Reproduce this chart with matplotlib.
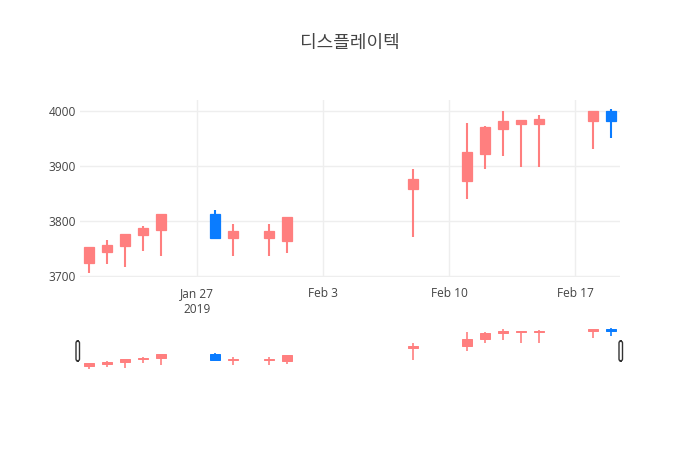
import numpy as np
import pandas as pd
import matplotlib
matplotlib.use("Agg")
import matplotlib.pyplot as plt
import matplotlib.dates as mdates
from matplotlib.patches import FancyBboxPatch

plt.rcParams['font.family'] = ['Open Sans', 'Noto Sans CJK KR', 'DejaVu Sans']

# daily OHLC
dates = pd.to_datetime([
    "2019-01-21", "2019-01-22", "2019-01-23", "2019-01-24", "2019-01-25",
    "2019-01-28", "2019-01-29", "2019-01-31", "2019-02-01", "2019-02-08",
    "2019-02-11", "2019-02-12", "2019-02-13", "2019-02-14", "2019-02-15",
    "2019-02-18", "2019-02-19",
])
opens = [3724, 3744, 3755, 3775, 3784, 3812, 3769, 3769, 3764, 3859,
         3873, 3922, 3968, 3977, 3977, 3982, 4000]
highs = [3752, 3765, 3777, 3791, 3812, 3820, 3795, 3795, 3807, 3895,
         3978, 3973, 4000, 3983, 3993, 4000, 4003]
lows = [3706, 3721, 3716, 3746, 3736, 3769, 3736, 3736, 3741, 3770,
        3840, 3895, 3919, 3899, 3899, 3930, 3950]
closes = [3752, 3757, 3777, 3787, 3812, 3769, 3782, 3782, 3807, 3876,
          3925, 3970, 3981, 3983, 3985, 4000, 3982]

title = "디스플레이텍"
tick_dates = pd.to_datetime(["2019-01-27", "2019-02-03", "2019-02-10", "2019-02-17"])
tick_labels = ["Jan 27\n2019", "Feb 3", "Feb 10", "Feb 17"]
y_ticks = [3700, 3800, 3900, 4000]

UP = "#ff7f7f"
DOWN = "#0a7cff"
GRID = "#eeeeee"
TXT = "#444444"

W, H = 700, 450
fig = plt.figure(figsize=(7, 4.5), dpi=100)


def px_axes(x0, y0, x1, y1):
    return fig.add_axes([x0 / W, 1 - y1 / H, (x1 - x0) / W, (y1 - y0) / H])


def draw_candles(ax, body_w=0.6, lw=1.5):
    xs = mdates.date2num(dates)
    for x, o, h, l, c in zip(xs, opens, highs, lows, closes):
        col = UP if c >= o else DOWN
        ax.plot([x, x], [l, h], color=col, lw=lw, solid_capstyle="butt", zorder=2)
        lo, hi = min(o, c), max(o, c)
        ax.add_patch(plt.Rectangle((x - body_w / 2, lo), body_w, max(hi - lo, 0.5),
                                   facecolor=col, edgecolor=col, lw=lw * 0.6, zorder=3))


xlim = (mdates.date2num(pd.Timestamp("2019-01-20 12:00")),
        mdates.date2num(pd.Timestamp("2019-02-19 12:00")))
ylim = (3698, 4020)

ax = px_axes(80, 100, 620, 277)
draw_candles(ax)
ax.set_xlim(xlim)
ax.set_ylim(ylim)
ax.set_xticks(mdates.date2num(tick_dates))
ax.set_xticklabels(tick_labels, linespacing=1.35)
ax.set_yticks(y_ticks)
ax.grid(True, color=GRID, lw=1)
ax.set_axisbelow(True)
for s in ax.spines.values():
    s.set_visible(False)
ax.tick_params(length=0, labelsize=8.6, colors=TXT)
ax.tick_params(axis="x", pad=7)
ax.tick_params(axis="y", pad=3)

# range slider
sl = px_axes(80, 326, 620, 370)
draw_candles(sl, lw=1.2)
sl.set_xlim(xlim)
sl.set_ylim(ylim)
sl.axis("off")
for hx in (76, 619):
    fig.patches.append(FancyBboxPatch((hx / W, 1 - 361 / H), 3.5 / W, 20 / H,
                                      boxstyle="round,pad=0,rounding_size=0.004",
                                      transform=fig.transFigure, facecolor="white",
                                      edgecolor="#333333", lw=1))

fig.text(0.5, 1 - 43 / H, title, ha="center", va="center", fontsize=13,
         color=TXT, family=['Noto Sans CJK KR', 'DejaVu Sans'])

fig.savefig("out.png", dpi=100, facecolor="white")
